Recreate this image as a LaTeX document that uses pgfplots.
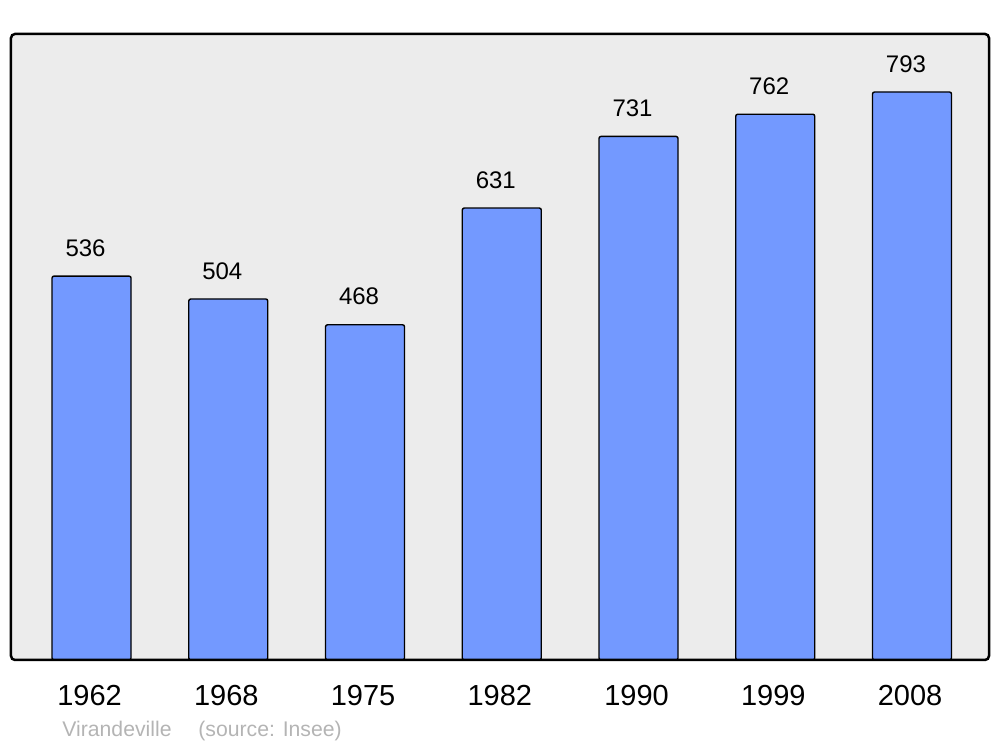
\documentclass[border=0pt]{standalone}
\usepackage{fontspec}
\setmainfont{Liberation Sans}
\usepackage{pgfplots}
\pgfplotsset{compat=1.18}
\definecolor{barblue}{HTML}{7399FF}
\definecolor{bggray}{HTML}{ECECEC}
\definecolor{srcgray}{HTML}{B4B4B4}
\begin{document}
\begin{tikzpicture}
\begin{axis}[
  name=ax,
  scale only axis,
  width=489pt, height=313pt,
  xmin=-0.589, xmax=6.563,
  ymin=0, ymax=874,
  axis lines=none,
  clip=false,
  xtick=\empty, ytick=\empty,
  ybar, bar width=39.5pt,
  nodes near coords,
  every node near coord/.append style={inner sep=0pt, yshift=9.5pt, xshift=-3pt, font=\fontsize{12}{14}\selectfont, /pgf/number format/assume math mode=true, text=black},
]
\fill[bggray, rounded corners=2pt] (rel axis cs:0,0) rectangle (rel axis cs:1,1);
\addplot[fill=barblue, draw=black, line width=0.7pt, rounded corners=1pt] coordinates {
(0,536) (1,504) (2,468) (3,631) (4,731) (5,762) (6,793)};
\draw[black, line width=1.25pt, rounded corners=2pt] (rel axis cs:0,0) rectangle (rel axis cs:1,1);
\foreach \i/\y in {0/1962,1/1968,2/1975,3/1982,4/1990,5/1999,6/2008}{
  \edef\tmp{\noexpand\node[anchor=base, inner sep=0pt, font=\noexpand\fontsize{14.5}{17}\noexpand\selectfont] at (axis cs:\i,0) [yshift=-23pt, xshift=-1pt] {\y};}
  \tmp
}
\node[anchor=base west, inner sep=0pt, text=srcgray, font=\fontsize{10.6}{12}\selectfont] at (rel axis cs:0,0) [xshift=25.5pt, yshift=-38.5pt] {Virandeville};
\node[anchor=base west, inner sep=0pt, text=srcgray, font=\fontsize{10.6}{12}\selectfont] at (rel axis cs:0,0) [xshift=93.5pt, yshift=-38.5pt] {(source: Insee)};
\end{axis}
\pgfresetboundingbox
\path[use as bounding box] ([shift={(-5.5pt,-43.5pt)}]ax.south west) rectangle ([shift={(5.5pt,17pt)}]ax.north east);
\end{tikzpicture}
\end{document}
